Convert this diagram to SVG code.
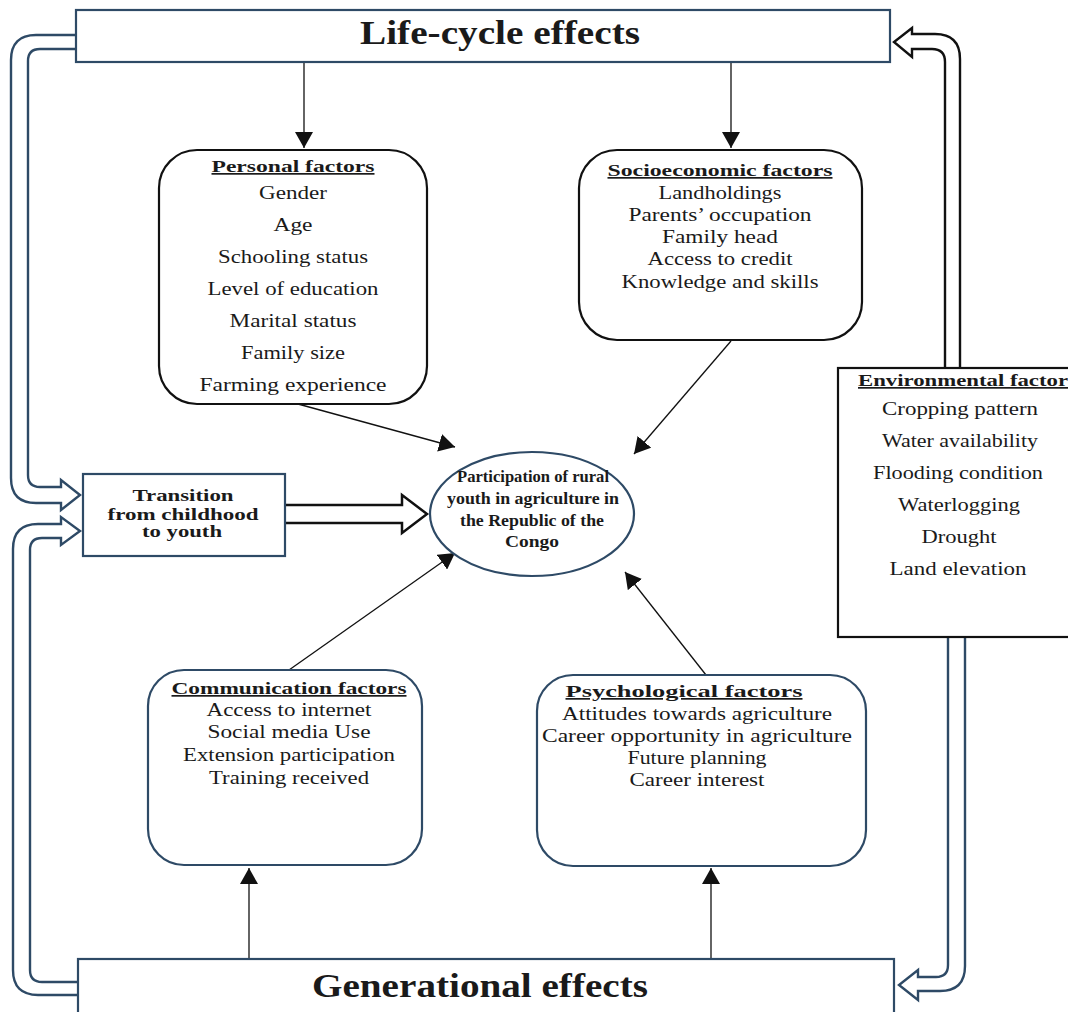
<svg xmlns="http://www.w3.org/2000/svg" width="1068" height="1012" viewBox="0 0 1068 1012">
<defs>
<style>
.blue{fill:#fff;stroke:#2e4a66;stroke-width:2.2}
.blk{fill:#fff;stroke:#111;stroke-width:2.2}
.hol{fill:none;stroke-width:2.4;stroke-linejoin:miter}
.ln{stroke:#111;stroke-width:1.3;fill:none}
text{font-family:"Liberation Serif","Times New Roman",serif;fill:#1a1a1a;text-anchor:middle}
.t{font-size:19px}
.h{font-size:17px;font-weight:bold;text-decoration:underline}
.b{font-size:17px;font-weight:bold}
.e{font-size:17px;font-weight:bold}
.big{font-size:33px;font-weight:bold}
</style>
<marker id="ah" viewBox="0 0 16 18" refX="16" refY="9" markerWidth="16" markerHeight="18" markerUnits="userSpaceOnUse" orient="auto">
<path d="M0,0 L16,9 L0,18 z" fill="#111"/>
</marker>
</defs>
<rect width="1068" height="1012" fill="#fff"/>

<g id="connectors">
<path class="hol" stroke="#2e4a66" d="M76,35 H36 Q11,35 11,60 V478 Q11,503 36,503 H61 V510 L80,495 L61,480 V487 H40 Q28,487 28,475 V61 Q28,49 40,49 H76"/>
<path class="hol" stroke="#2e4a66" d="M78,995 H38 Q13,995 13,970 V549 Q13,524 38,524 H61 V517 L80,531 L61,545 V538 H42 Q30,538 30,550 V970 Q30,982 42,982 H78"/>
<path class="hol" stroke="#111" d="M945,368 V62 Q945,49 932,49 H912 V57 L894,42 L912,28 V34 H935 Q960,34 960,59 V368"/>
<path class="hol" stroke="#2e4a66" d="M948,637 V965 Q948,977 936,977 H918 V970 L899,985 L918,1000 V991 H940 Q965,991 965,966 V637"/>
<path d="M285,505 H402 V495 L427,514 L402,533 V523 H285" fill="#fff" stroke="#111" stroke-width="2.5"/>
<line class="ln" x1="304" y1="62" x2="304" y2="148" marker-end="url(#ah)"/>
<line class="ln" x1="731" y1="62" x2="731" y2="148" marker-end="url(#ah)"/>
<line class="ln" x1="298" y1="404" x2="455" y2="447" marker-end="url(#ah)"/>
<line class="ln" x1="731" y1="341" x2="634" y2="454" marker-end="url(#ah)"/>
<line class="ln" x1="289" y1="670" x2="455" y2="553" marker-end="url(#ah)"/>
<line class="ln" x1="706" y1="675" x2="625" y2="572" marker-end="url(#ah)"/>
<line class="ln" x1="249" y1="959" x2="249" y2="868" marker-end="url(#ah)"/>
<line class="ln" x1="711" y1="959" x2="711" y2="868" marker-end="url(#ah)"/>
</g>

<g id="lifecycle">
<rect class="blue" x="76" y="10" width="814" height="52"/>
<text class="big" x="500" y="44" textLength="280" lengthAdjust="spacingAndGlyphs">Life-cycle effects</text>
</g>

<g id="generational">
<rect class="blue" x="78" y="959" width="816" height="70"/>
<text class="big" x="480" y="997" textLength="336" lengthAdjust="spacingAndGlyphs">Generational effects</text>
</g>

<g id="personal">
<rect class="blk" x="159" y="150" width="268" height="254" rx="38"/>
<text class="h" x="293" y="172" textLength="163" lengthAdjust="spacingAndGlyphs">Personal factors</text>
<text class="t" x="293" y="199" textLength="68" lengthAdjust="spacingAndGlyphs">Gender</text>
<text class="t" x="293" y="231" textLength="39" lengthAdjust="spacingAndGlyphs">Age</text>
<text class="t" x="293" y="263" textLength="150" lengthAdjust="spacingAndGlyphs">Schooling  status</text>
<text class="t" x="293" y="295" textLength="171" lengthAdjust="spacingAndGlyphs">Level of education</text>
<text class="t" x="293" y="327" textLength="127" lengthAdjust="spacingAndGlyphs">Marital status</text>
<text class="t" x="293" y="359" textLength="104" lengthAdjust="spacingAndGlyphs">Family  size</text>
<text class="t" x="293" y="391" textLength="187" lengthAdjust="spacingAndGlyphs">Farming  experience</text>
</g>

<g id="socioeconomic">
<rect class="blk" x="579" y="150" width="283" height="190" rx="38"/>
<text class="h" x="720" y="176" textLength="225" lengthAdjust="spacingAndGlyphs">Socioeconomic factors</text>
<text class="t" x="720" y="199" textLength="123" lengthAdjust="spacingAndGlyphs">Landholdings</text>
<text class="t" x="720" y="221" textLength="183" lengthAdjust="spacingAndGlyphs">Parents’ occupation</text>
<text class="t" x="720" y="243" textLength="116" lengthAdjust="spacingAndGlyphs">Family  head</text>
<text class="t" x="720" y="265" textLength="145" lengthAdjust="spacingAndGlyphs">Access to credit</text>
<text class="t" x="720" y="288" textLength="197" lengthAdjust="spacingAndGlyphs">Knowledge and skills</text>
</g>

<g id="environmental">
<rect class="blk" x="838" y="368" width="240" height="269"/>
<text class="h" x="963" y="386" textLength="210" lengthAdjust="spacingAndGlyphs">Environmental factor</text>
<text class="t" x="960" y="415" textLength="156" lengthAdjust="spacingAndGlyphs">Cropping pattern</text>
<text class="t" x="960" y="447" textLength="156" lengthAdjust="spacingAndGlyphs">Water availability</text>
<text class="t" x="958" y="479" textLength="170" lengthAdjust="spacingAndGlyphs">Flooding  condition</text>
<text class="t" x="959" y="511" textLength="122" lengthAdjust="spacingAndGlyphs">Waterlogging</text>
<text class="t" x="959" y="543" textLength="75" lengthAdjust="spacingAndGlyphs">Drought</text>
<text class="t" x="958" y="575" textLength="137" lengthAdjust="spacingAndGlyphs">Land elevation</text>
</g>

<g id="participation">
<ellipse cx="532" cy="514" rx="102" ry="62" fill="#fff" stroke="#2e4a66" stroke-width="2.2"/>
<text class="e" x="533" y="482" textLength="152" lengthAdjust="spacingAndGlyphs">Participation of rural</text>
<text class="e" x="533" y="504" textLength="172" lengthAdjust="spacingAndGlyphs">youth in  agriculture in</text>
<text class="e" x="532" y="526" textLength="144" lengthAdjust="spacingAndGlyphs">the  Republic of the</text>
<text class="e" x="532" y="547" textLength="54" lengthAdjust="spacingAndGlyphs">Congo</text>
</g>

<g id="transition">
<rect class="blue" x="83" y="474" width="202" height="82"/>
<text class="b" x="183" y="501" textLength="101" lengthAdjust="spacingAndGlyphs">Transition</text>
<text class="b" x="183" y="520" textLength="151" lengthAdjust="spacingAndGlyphs">from childhood</text>
<text class="b" x="182" y="537" textLength="80" lengthAdjust="spacingAndGlyphs">to youth</text>
</g>

<g id="communication">
<rect class="blue" x="148" y="670" width="274" height="195" rx="36"/>
<text class="h" x="289" y="694" textLength="235" lengthAdjust="spacingAndGlyphs">Communication factors</text>
<text class="t" x="289" y="716" textLength="165" lengthAdjust="spacingAndGlyphs">Access to internet</text>
<text class="t" x="289" y="738" textLength="163" lengthAdjust="spacingAndGlyphs">Social media Use</text>
<text class="t" x="289" y="761" textLength="212" lengthAdjust="spacingAndGlyphs">Extension participation</text>
<text class="t" x="289" y="784" textLength="160" lengthAdjust="spacingAndGlyphs">Training  received</text>
</g>

<g id="psychological">
<rect class="blue" x="537" y="675" width="329" height="191" rx="36"/>
<text class="h" x="684" y="697" textLength="237" lengthAdjust="spacingAndGlyphs">Psychological factors</text>
<text class="t" x="697" y="720" textLength="270" lengthAdjust="spacingAndGlyphs">Attitudes towards agriculture</text>
<text class="t" x="697" y="742" textLength="310" lengthAdjust="spacingAndGlyphs">Career opportunity in  agriculture</text>
<text class="t" x="697" y="764" textLength="139" lengthAdjust="spacingAndGlyphs">Future planning</text>
<text class="t" x="697" y="786" textLength="135" lengthAdjust="spacingAndGlyphs">Career interest</text>
</g>
</svg>
